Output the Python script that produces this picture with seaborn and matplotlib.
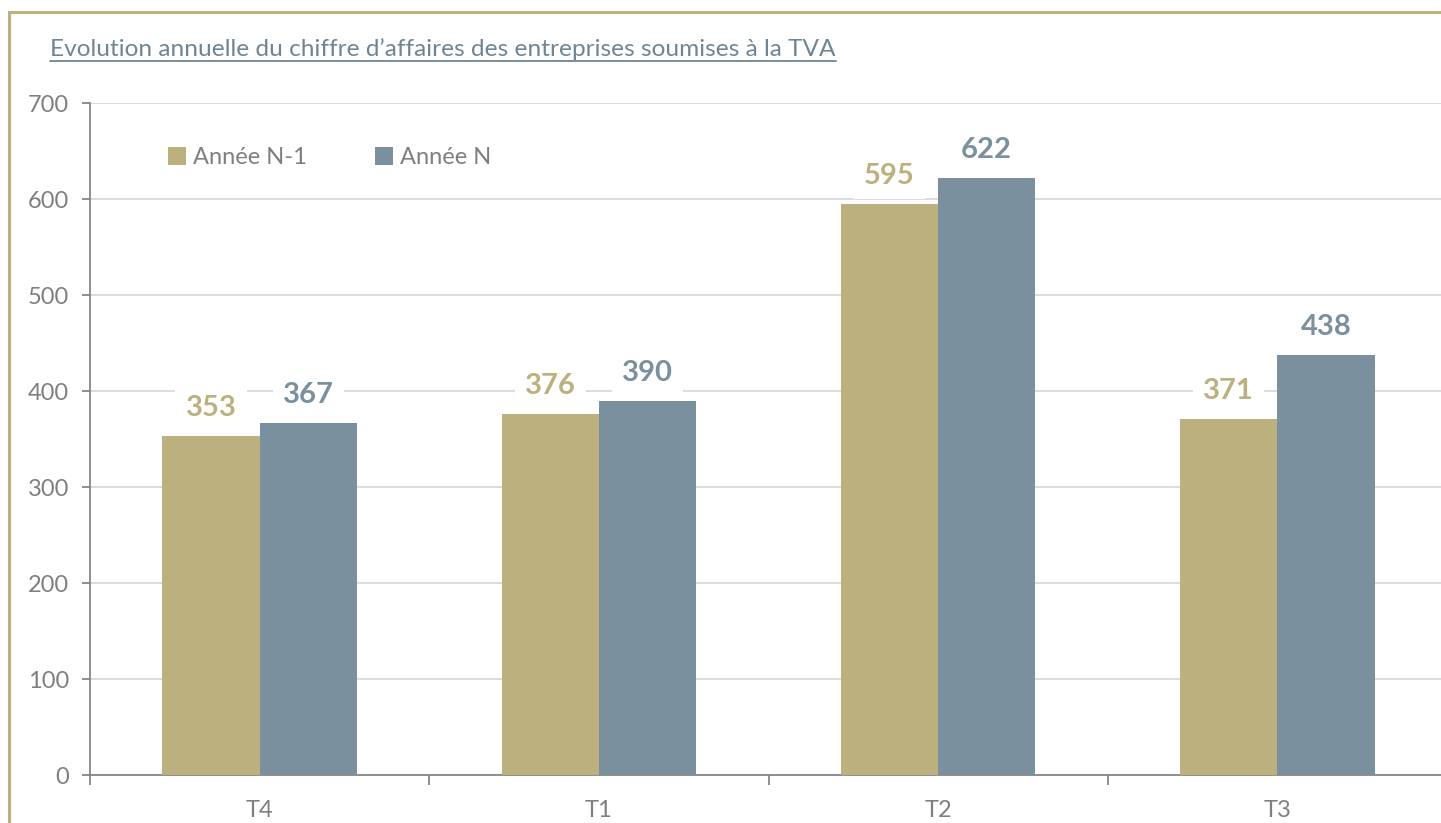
"""
Evolution annuelle du chiffre d'affaires des entreprises soumises à la TVA.
Grouped bars per quarter, year N-1 vs year N.
"""
import matplotlib
matplotlib.use("Agg")
import matplotlib.pyplot as plt
from matplotlib.lines import Line2D
from matplotlib.patches import Rectangle
import pandas as pd
import seaborn as sns

quarters = ["T4", "T1", "T2", "T3"]
series = ["Année N-1", "Année N"]
values_n1 = [353, 376, 595, 371]
values_n = [367, 390, 622, 438]

TITLE = "Evolution annuelle du chiffre d\u2019affaires des entreprises soumises à la TVA"
TAN = "#BDB07F"
BLUE = "#7A909E"
GREY = "#7F7F7F"

df = pd.DataFrame({
    "trimestre": quarters * 2,
    "serie": [series[0]] * len(quarters) + [series[1]] * len(quarters),
    "valeur": values_n1 + values_n,
})

sns.set_theme(style="white")
plt.rcParams["font.family"] = ["Lato", "DejaVu Sans"]

W, H = 1441, 823
fig = plt.figure(figsize=(W / 100, H / 100), dpi=100)

# outer tan frame (runs off the right and bottom edges like the original)
fig.patches.append(Rectangle((9 / W, -0.1), 1.2, 1 - 12 / H + 0.1, transform=fig.transFigure,
                             fill=False, edgecolor=TAN, linewidth=2.2, zorder=0))

ax = fig.add_axes([90 / W, (H - 775) / H, (1447 - 90) / W, (775 - 103) / H])
sns.barplot(data=df, x="trimestre", y="valeur", hue="serie", order=quarters,
            hue_order=series, palette=[TAN, BLUE], width=0.573, saturation=1,
            errorbar=None, linewidth=0, ax=ax, zorder=3)

ax.set_ylim(0, 700)
ax.set_yticks(range(0, 701, 100))
ax.set_xlim(-0.5, len(quarters) - 0.5)
ax.set_xlabel("")
ax.set_ylabel("")
ax.yaxis.grid(True, color="#D9D9D9", linewidth=1.3, zorder=0)
ax.set_axisbelow(True)
for side in ("top", "right"):
    ax.spines[side].set_visible(False)
for side in ("left", "bottom"):
    ax.spines[side].set_color("#868686")
    ax.spines[side].set_linewidth(1.3)

ax.tick_params(axis="y", left=True, length=6, width=1.3, color="#868686",
               labelsize=17, labelcolor=GREY, pad=9)
ax.tick_params(axis="x", bottom=False, labelsize=17, labelcolor=GREY, pad=12)
ax.set_xticks([i + 0.5 for i in range(-1, len(quarters))], minor=True)
ax.tick_params(axis="x", which="minor", bottom=True, length=7, width=1.3, color="#868686")

# data labels above the bars, bold, in the bar colour, on a white box
for container, color in zip(ax.containers, [TAN, BLUE]):
    for bar in container:
        h = bar.get_height()
        ax.annotate(f"{h:.0f}", (bar.get_x() + bar.get_width() / 2, h),
                    xytext=(0, 20), textcoords="offset points", ha="center", va="center",
                    fontsize=21, fontweight="bold", color=color, zorder=5,
                    bbox=dict(boxstyle="square,pad=0.35", facecolor="white", edgecolor="none"))

leg = ax.legend(loc="upper left", bbox_to_anchor=(57 / (1447 - 90), 1 - 23 / 672),
                ncol=2, frameon=False, fontsize=17, labelcolor=GREY,
                handlelength=0.75, handleheight=0.75, handletextpad=0.3, columnspacing=2.9)

# title with underline
t = fig.text(50 / W, 1 - 49 / H, TITLE, fontsize=17.6, color="#6F8595", va="center", ha="left")
fig.canvas.draw()
bb = t.get_window_extent().transformed(fig.transFigure.inverted())
fig.add_artist(Line2D([bb.x0, bb.x1], [bb.y0 - 1 / H, bb.y0 - 1 / H], color="#6F8595",
                      linewidth=1.3, transform=fig.transFigure))

fig.savefig("out.png", dpi=100)
